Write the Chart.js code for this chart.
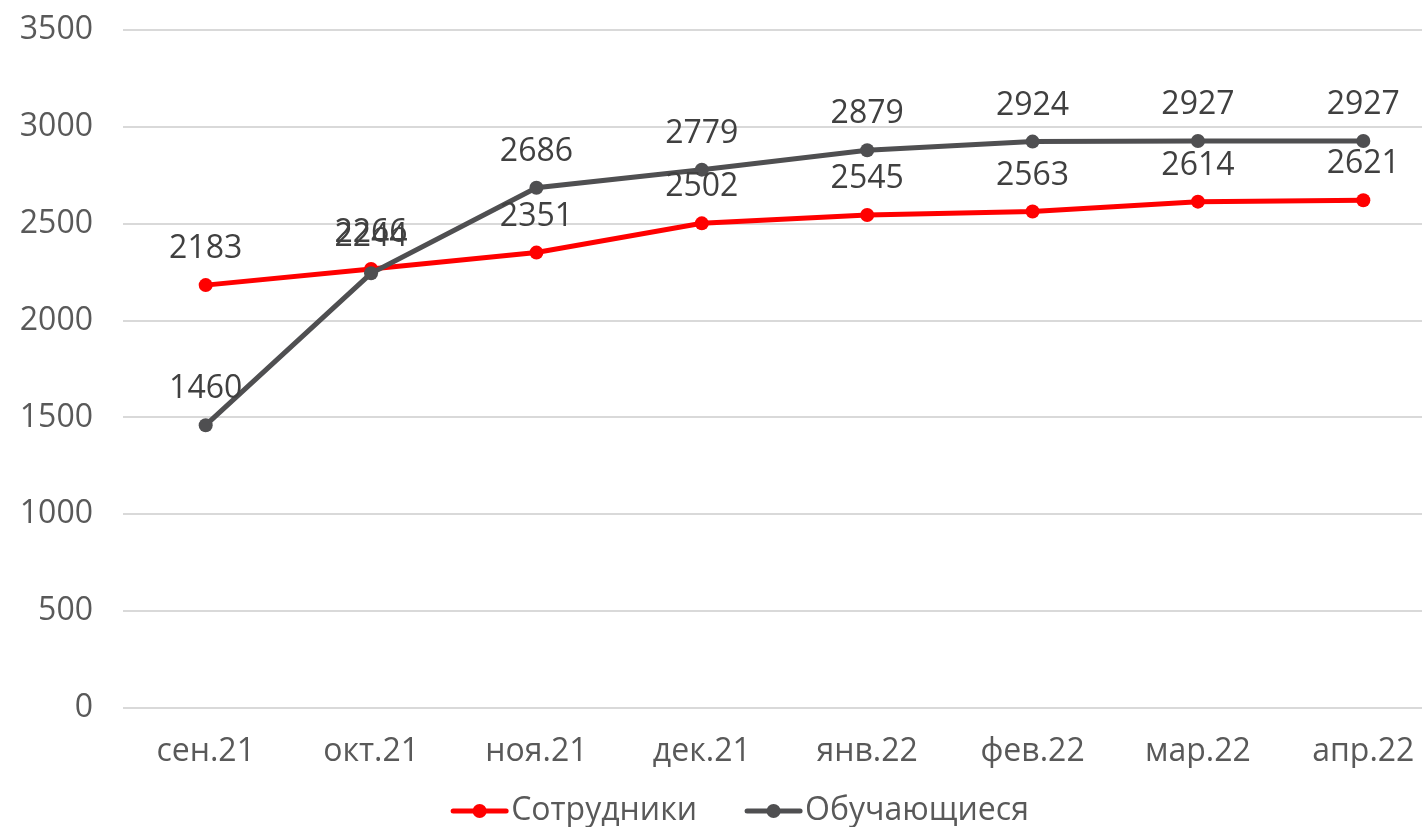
<!DOCTYPE html>
<html><head><meta charset="utf-8">
<script src="https://cdn.jsdelivr.net/npm/chart.js@4/dist/chart.umd.min.js"></script>
<style>html,body{margin:0;padding:0;background:#fff;overflow:hidden}#wrap{width:1446px;height:827px}</style>
</head><body><div id="wrap"><canvas id="c" width="1446" height="827"></canvas></div>
<script>
const categories = ['сен.21','окт.21','ноя.21','дек.21','янв.22','фев.22','мар.22','апр.22'];
const staff = [2183, 2266, 2351, 2502, 2545, 2563, 2614, 2621];
const students = [1460, 2244, 2686, 2779, 2879, 2924, 2927, 2927];
const seriesNames = ['Сотрудники', 'Обучающиеся'];
const yTicks = [0, 500, 1000, 1500, 2000, 2500, 3000, 3500];

const FONT = '"Open Sans", Lato, sans-serif';
const RED = '#FF0000', GREY = '#4F4F51';

const labelPlugin = {
  id: 'valueLabels',
  afterDatasetsDraw(chart){
    const ctx = chart.ctx;
    ctx.save();
    ctx.font = '32px ' + FONT;
    ctx.fillStyle = '#404040';
    ctx.textAlign = 'center';
    ctx.textBaseline = 'middle';
    chart.data.datasets.forEach((ds, i) => {
      const meta = chart.getDatasetMeta(i);
      meta.data.forEach((pt, j) => {
        ctx.fillText(String(ds.data[j]), pt.x, pt.y - 36);
      });
    });
    ctx.restore();
  }
};

// legend drawn as line + marker + text, like the source
const legendPlugin = {
  id: 'lineLegend',
  afterDraw(chart){
    const ctx = chart.ctx;
    ctx.save();
    ctx.font = '32px ' + FONT;
    ctx.textBaseline = 'middle';
    ctx.textAlign = 'left';
    const icon = 57, gapText = 3, gapItem = 48, y = 811, center = 740;
    const items = chart.data.datasets.map(ds => ({ds, w: ctx.measureText(ds.label).width}));
    const total = items.reduce((s, it) => s + icon + gapText + it.w, 0) + gapItem * (items.length - 1);
    let x = center - total / 2;
    items.forEach(it => {
      const c = it.ds.borderColor;
      ctx.strokeStyle = c; ctx.lineWidth = 5; ctx.lineCap = 'round';
      ctx.beginPath(); ctx.moveTo(x + 2, y); ctx.lineTo(x + icon - 2, y); ctx.stroke();
      ctx.fillStyle = c; ctx.beginPath(); ctx.arc(x + icon / 2, y, 7, 0, Math.PI * 2); ctx.fill();
      ctx.fillStyle = '#595959';
      ctx.fillText(it.ds.label, x + icon + gapText, y);
      x += icon + gapText + it.w + gapItem;
    });
    ctx.restore();
  }
};

new Chart(document.getElementById('c'), {
  type: 'line',
  data: {
    labels: categories,
    datasets: [
      {label: seriesNames[0], data: staff, borderColor: RED, backgroundColor: RED, borderWidth: 5,
       pointRadius: 7, pointBackgroundColor: RED, pointBorderWidth: 0, tension: 0, order: 1},
      {label: seriesNames[1], data: students, borderColor: GREY, backgroundColor: GREY, borderWidth: 5,
       pointRadius: 7, pointBackgroundColor: GREY, pointBorderWidth: 0, tension: 0, order: 0}
    ]
  },
  options: {
    responsive: false,
    animation: false,
    layout: {autoPadding: false, padding: {top: 30, right: 0, bottom: 59, left: 0}},
    plugins: {
      tooltip: {enabled: false},
      legend: {display: false}
    },
    scales: {
      x: {
        offset: true,
        grid: {display: false},
        border: {display: false},
        afterFit(s){ s.height = 60; s.paddingLeft = 0; s.paddingRight = 0; },
        ticks: {font: {family: FONT, size: 32}, color: '#595959', padding: 17, maxRotation: 0, autoSkip: false}
      },
      y: {
        min: 0, max: 3500,
        afterFit(s){ s.width = 123; s.paddingTop = 0; s.paddingBottom = 0; },
        afterBuildTicks(s){ s.ticks = yTicks.map(v => ({value: v})); },
        grid: {color: '#D9D9D9', lineWidth: 2, drawTicks: false},
        border: {display: false},
        ticks: {font: {family: FONT, size: 32}, color: '#595959', padding: 30, callback: v => String(v)}
      }
    }
  },
  plugins: [labelPlugin, legendPlugin]
});
</script></body></html>
